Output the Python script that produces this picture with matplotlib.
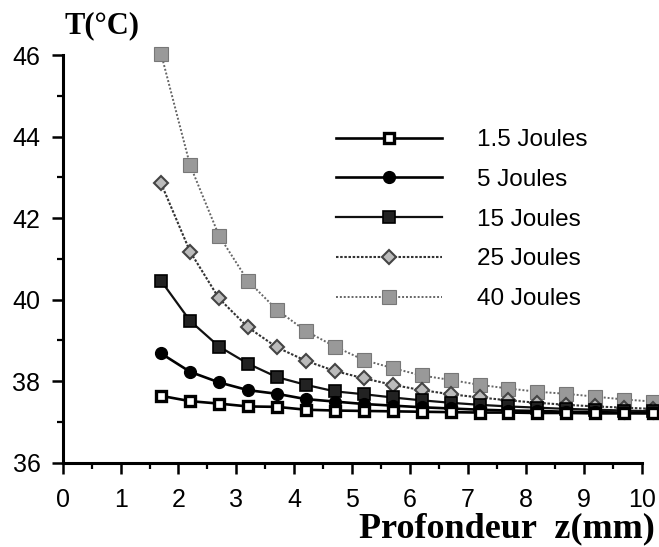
import matplotlib.pyplot as plt
from matplotlib.ticker import MultipleLocator

# depth (mm) and temperature (deg C) for each energy
z = [1.7, 2.2, 2.7, 3.2, 3.7, 4.2, 4.7, 5.2, 5.7, 6.2, 6.7, 7.2, 7.7, 8.2, 8.7, 9.2, 9.7, 10.2]
t_1_5 = [37.64, 37.51, 37.45, 37.38, 37.37, 37.30, 37.28, 37.27, 37.26, 37.25,
         37.24, 37.23, 37.23, 37.22, 37.22, 37.21, 37.21, 37.21]
t_5 = [38.68, 38.23, 37.97, 37.78, 37.69, 37.56, 37.50, 37.44, 37.40, 37.36,
       37.33, 37.30, 37.28, 37.27, 37.25, 37.24, 37.23, 37.22]
t_15 = [40.46, 39.48, 38.85, 38.43, 38.10, 37.91, 37.75, 37.68, 37.60, 37.53,
        37.47, 37.42, 37.38, 37.35, 37.32, 37.30, 37.28, 37.26]
t_25 = [42.85, 41.18, 40.03, 39.32, 38.83, 38.50, 38.25, 38.07, 37.91, 37.78,
        37.68, 37.60, 37.53, 37.47, 37.42, 37.38, 37.35, 37.32]
t_40 = [46.03, 43.30, 41.57, 40.46, 39.75, 39.23, 38.85, 38.52, 38.32, 38.14,
        38.03, 37.91, 37.82, 37.74, 37.69, 37.62, 37.55, 37.50]
labels = ['1.5 Joules', '5 Joules', '15 Joules', '25 Joules', '40 Joules']

plt.rcParams['font.family'] = ['Liberation Sans', 'DejaVu Sans']

fig = plt.figure(figsize=(6.59, 5.47), dpi=100)
ax = fig.add_axes([0.0951, 0.1541, 0.8786, 0.7453])

ax.plot(z, t_1_5, '-s', color='black', lw=1.9, ms=7.5, mfc='white', mec='black',
        mew=2.4, clip_on=False, label=labels[0], zorder=5)
ax.plot(z, t_5, '-o', color='black', lw=1.9, ms=8.5, mfc='black', mec='black',
        clip_on=False, label=labels[1], zorder=4)
ax.plot(z, t_15, '-s', color='#111111', lw=1.6, ms=9, mfc='#222222', mec='black',
        mew=1.2, clip_on=False, label=labels[2], zorder=3)
ax.plot(z, t_25, color='#333333', lw=1.5, ls=(0, (1.2, 0.8)), marker='D', ms=7,
        mfc='#bbbbbb', mec='#444444', mew=1.5, clip_on=False, label=labels[3], zorder=2)
ax.plot(z, t_40, color='#666666', lw=1.4, ls=(0, (1, 1)), marker='s', ms=10,
        mfc='#999999', mec='#777777', mew=0.8, clip_on=False, label=labels[4], zorder=1)

ax.set_xlim(0, 10)
ax.set_ylim(36, 46)
ax.xaxis.set_major_locator(MultipleLocator(1))
ax.xaxis.set_minor_locator(MultipleLocator(0.5))
ax.yaxis.set_major_locator(MultipleLocator(2))
ax.yaxis.set_minor_locator(MultipleLocator(1))

for s in ['top', 'right']:
    ax.spines[s].set_visible(False)
for s in ['left', 'bottom']:
    ax.spines[s].set_linewidth(2.2)

ax.tick_params(which='major', length=8, width=1.8, labelsize=18, pad=8)
ax.tick_params(axis='x', which='major', pad=10)
ax.tick_params(which='minor', length=4.5, width=1.6)

fig.text(0.155, 0.953, 'T(°C)', family='Liberation Serif', weight='bold',
         fontsize=22, ha='center', va='center')
fig.text(0.994, 0.018, 'Profondeur  z(mm)', family='Liberation Serif', weight='bold',
         fontsize=26, ha='right', va='baseline')

ax.legend(loc='upper left', bbox_to_anchor=(0.51, 0.764), bbox_transform=fig.transFigure,
          frameon=False, fontsize=17.5, handlelength=4.35, handletextpad=1.45,
          labelspacing=0.73, borderpad=0, borderaxespad=0)

fig.savefig('out.png', dpi=100)
